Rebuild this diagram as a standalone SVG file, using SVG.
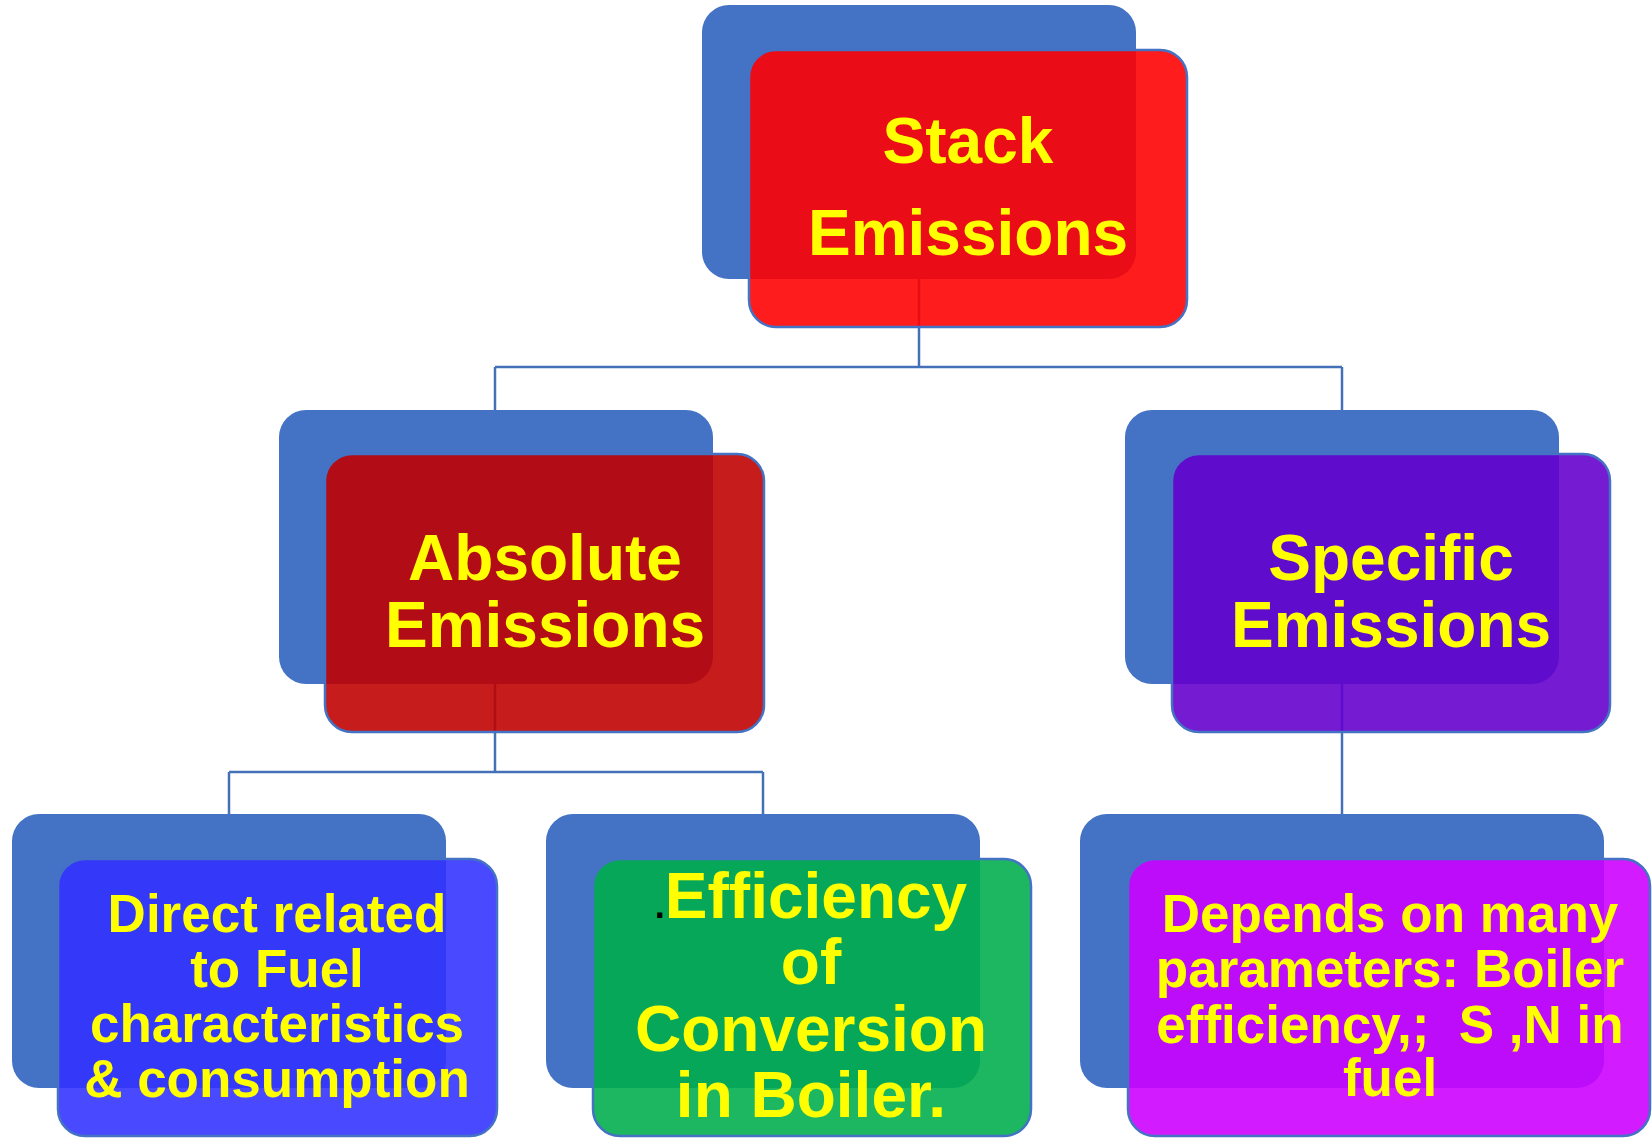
<svg xmlns="http://www.w3.org/2000/svg" width="1652" height="1138" viewBox="0 0 1652 1138">
<style>
.back{fill:#4472C4}
.front{fill-opacity:0.89;stroke:#4472C4;stroke-width:2.5}
.t{font-family:"Liberation Sans",Arial,sans-serif;font-weight:bold;fill:#FFFF00;text-anchor:middle}
.big{font-size:64px}
.small{font-size:53px}
.conn{stroke:#4470B8;stroke-width:2.5;fill:none}
</style>
<rect width="1652" height="1138" fill="#FFFFFF"/>
<g id="connectors">
<path class="conn" d="M919 279 V367 M495 367 H1342 M495 367 V410 M1342 367 V410"/>
<path class="conn" d="M495 684 V772 M229 772 H763 M229 772 V814 M763 772 V814"/>
<path class="conn" d="M1342 684 V814"/>
</g>
<g id="stack">
<rect class="back" x="702" y="5" width="434" height="274" rx="27"/>
<rect class="front" x="749" y="50" width="438" height="277" rx="27" fill="#FF0000"/>
<text class="t big" x="968" y="163">Stack</text>
<text class="t big" x="968" y="255">Emissions</text>
</g>
<g id="absolute">
<rect class="back" x="279" y="410" width="434" height="274" rx="27"/>
<rect class="front" x="325" y="454" width="439" height="278" rx="27" fill="#C00000"/>
<text class="t big" x="545" y="580">Absolute</text>
<text class="t big" x="545" y="647">Emissions</text>
</g>
<g id="specific">
<rect class="back" x="1125" y="410" width="434" height="274" rx="27"/>
<rect class="front" x="1172" y="454" width="438" height="278" rx="27" fill="#6400CE"/>
<text class="t big" x="1391" y="580">Specific</text>
<text class="t big" x="1391" y="647">Emissions</text>
</g>
<g id="direct">
<rect class="back" x="12" y="814" width="434" height="274" rx="27"/>
<rect class="front" x="58" y="859" width="439" height="277" rx="27" fill="#3333FF"/>
<text class="t small" x="277" y="932">Direct related</text>
<text class="t small" x="277" y="987">to Fuel</text>
<text class="t small" x="277" y="1042">characteristics</text>
<text class="t small" x="277" y="1097">&amp; consumption</text>
</g>
<g id="efficiency">
<rect class="back" x="546" y="814" width="434" height="274" rx="27"/>
<rect class="front" x="593" y="859" width="438" height="277" rx="27" fill="#00AE4C"/>
<text class="t big" x="811" y="918"><tspan style="fill:#000000;font-size:36px">.</tspan>Efficiency</text>
<text class="t big" x="811" y="984">of</text>
<text class="t big" x="811" y="1051">Conversion</text>
<text class="t big" x="811" y="1117">in Boiler.</text>
</g>
<g id="depends">
<rect class="back" x="1080" y="814" width="524" height="274" rx="27"/>
<rect class="front" x="1128" y="859" width="522" height="277" rx="27" fill="#CC00FF"/>
<text class="t small" x="1390" y="932">Depends on many</text>
<text class="t small" x="1390" y="987">parameters: Boiler</text>
<text class="t small" x="1390" y="1043" style="white-space:pre">efficiency,;  S ,N in</text>
<text class="t small" x="1390" y="1096">fuel</text>
</g>
</svg>
